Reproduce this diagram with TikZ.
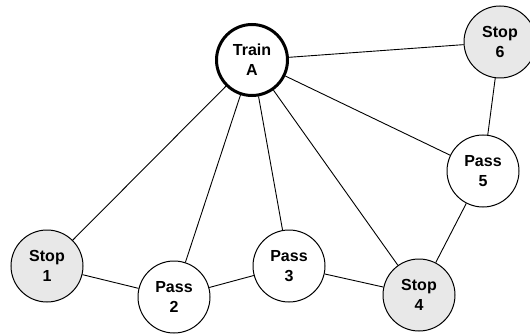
\documentclass[tikz,border=0pt]{standalone}
\usepackage{fontspec}
\setmainfont{Liberation Sans}
\definecolor{stopgray}{RGB}{232,232,232}
\begin{document}
\begin{tikzpicture}[x=1pt,y=-1pt,
  base/.style={circle,draw=black,line width=1pt,minimum size=72pt,inner sep=0pt,
    align=center,font=\fontsize{16}{20}\selectfont\bfseries,fill=white},
  stopnode/.style={base,fill=stopgray},
  passnode/.style={base},
  trainnode/.style={base,line width=3pt,minimum size=71pt},
  edge/.style={draw=black,line width=0.9pt}]
\useasboundingbox (0,0) rectangle (530,334);
\node[trainnode] (A) at (252,60) {Train\\A};
\node[stopnode] (S6) at (500,42) {Stop\\6};
\node[passnode] (P5) at (483,171) {Pass\\5};
\node[stopnode] (S1) at (47,266) {Stop\\1};
\node[passnode] (P2) at (174,297) {Pass\\2};
\node[passnode] (P3) at (289,266) {Pass\\3};
\node[stopnode] (S4) at (419,295) {Stop\\4};
\draw[edge] (A) -- (S6);
\draw[edge] (A) -- (P5);
\draw[edge] (A) -- (S4);
\draw[edge] (A) -- (P3);
\draw[edge] (A) -- (P2);
\draw[edge] (A) -- (S1);
\draw[edge] (S6) -- (P5);
\draw[edge] (P5) -- (S4);
\draw[edge] (S4) -- (P3);
\draw[edge] (P3) -- (P2);
\draw[edge] (P2) -- (S1);
\end{tikzpicture}
\end{document}
